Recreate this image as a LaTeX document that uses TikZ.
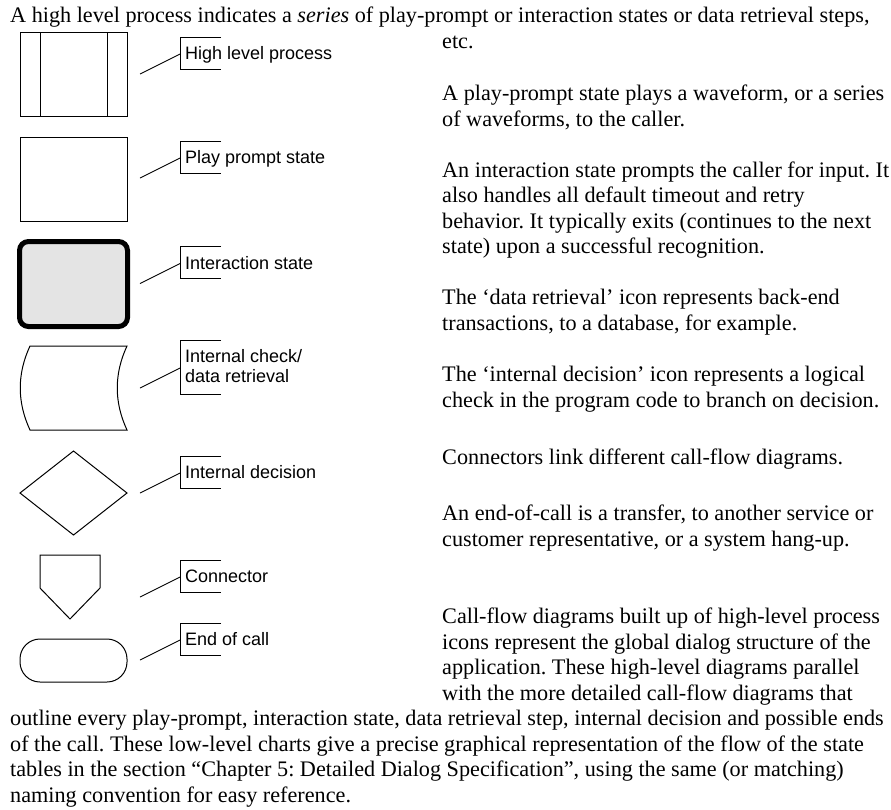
\documentclass[tikz,border=0pt]{standalone}
\usepackage{fontspec}
\setmainfont{Liberation Serif}
\newfontfamily\labelfont{Liberation Sans}
\frenchspacing
\begin{document}
\begin{tikzpicture}[x=1pt,y=-1pt,
  bodytext/.style={anchor=base west, inner sep=0pt, font=\fontsize{22.2}{25.5}\selectfont},
  lbl/.style={anchor=base west, inner sep=0pt, font=\labelfont\fontsize{18}{20}\selectfont},
  shapeline/.style={draw=black, line width=1pt, line join=miter},
  leader/.style={draw=black, line width=0.9pt},
]
\useasboundingbox[fill=white] (0,0) rectangle (891,809);

% ---------- shapes ----------
% high level process
\draw[shapeline] (20,32) rectangle (127,116);
\coordinate (hlpA) at (40,32); \coordinate (hlpB) at (40,116);
\coordinate (hlpC) at (107,32); \coordinate (hlpD) at (107,116);
\draw[shapeline] (hlpA) -- (hlpB);
\draw[shapeline] (hlpC) -- (hlpD);
% play prompt
\draw[shapeline] (20,137) rectangle (127,221);
% interaction state
\draw[line width=5pt, fill={rgb,255:red,228;green,228;blue,228}, rounded corners=9pt] (19.5,241.5) rectangle (127.5,326.5);
% internal check / data retrieval
\draw[shapeline] (30,346) -- (127,346) .. controls (114,374) and (114,402) .. (127,430)
   -- (30,430) .. controls (17,402) and (17,374) .. (30,346) -- cycle;
% decision
\draw[shapeline] (20,493) -- (73.5,451) -- (127,493) -- (73.5,535) -- cycle;
% connector
\draw[shapeline] (40,555) -- (100,555) -- (100,588) -- (70,619) -- (40,588) -- cycle;
% end of call
\draw[shapeline, rounded corners=20pt] (20,639) rectangle (127,682);

% ---------- legend labels ----------
\newcommand\legendentry[3]{%
  \coordinate (#1-a) at (140,#2);
  \coordinate (#1-b) at (180,#2-20);
  \coordinate (#1-c) at (221,#2-37);
  \coordinate (#1-d) at (180,#2-37);
  \coordinate (#1-e) at (180,#2-5);
  \coordinate (#1-f) at (221,#2-5);
  \draw[leader] (#1-a) -- (#1-b);
  \draw[leader] (#1-c) -- (#1-d) -- (#1-e) -- (#1-f);
  \node[lbl] (#1-t) at (185,#2-14.5) {#3};
}
\legendentry{hlp}{74}{High level process}
\legendentry{ppr}{178}{Play prompt state}
\legendentry{int}{283.5}{Interaction state}
\legendentry{dec}{493}{Internal decision}
\legendentry{con}{597}{Connector}
\legendentry{eoc}{660}{End of call}
% two-line label
\coordinate (chk-a) at (140,388);
\coordinate (chk-b) at (180,368);
\coordinate (chk-c) at (221,340);
\coordinate (chk-d) at (180,340);
\coordinate (chk-e) at (180,394);
\coordinate (chk-f) at (221,394);
\draw[leader] (chk-a) -- (chk-b);
\draw[leader] (chk-c) -- (chk-d) -- (chk-e) -- (chk-f);
\node[lbl] (chk-t1) at (185,362.7) {Internal check/};
\node[lbl] (chk-t2) at (185,382.7) {data retrieval};

% ---------- body text ----------
\newcommand\bline[4]{\node[bodytext] (#1) at (#2,#3) {#4};}
\bline{l01}{10}{22.5}{A high level process indicates a \textit{series} of play-prompt or interaction states or data retrieval steps,}
\bline{l02}{442}{48}{etc.}
\bline{l03}{442}{100}{A play-prompt state plays a waveform, or a series}
\bline{l04}{442}{126}{of waveforms, to the caller.}
\bline{l05}{442}{177}{An interaction state prompts the caller for input. It}
\bline{l06}{442}{202.5}{also handles all default timeout and retry}
\bline{l07}{442}{228}{behavior. It typically exits (continues to the next}
\bline{l08}{442}{253.5}{state) upon a successful recognition.}
\bline{l09}{442}{304.5}{The ‘data retrieval’ icon represents back-end}
\bline{l10}{442}{330.5}{transactions, to a database, for example.}
\bline{l11}{442}{381.5}{The ‘internal decision’ icon represents a logical}
\bline{l12}{442}{407}{check in the program code to branch on decision.}
\bline{l13}{442}{464}{Connectors link different call-flow diagrams.}
\bline{l14}{442}{520.5}{An end-of-call is a transfer, to another service or}
\bline{l15}{442}{546.5}{customer representative, or a system hang-up.}
\bline{l16}{442}{623.5}{Call-flow diagrams built up of high-level process}
\bline{l17}{442}{649}{icons represent the global dialog structure of the}
\bline{l18}{442}{674.5}{application. These high-level diagrams parallel}
\bline{l19}{442}{700}{with the more detailed call-flow diagrams that}
\bline{l20}{10}{725.5}{outline every play-prompt, interaction state, data retrieval step, internal decision and possible ends}
\bline{l21}{10}{751}{of the call. These low-level charts give a precise graphical representation of the flow of the state}
\bline{l22}{10}{776.5}{tables in the section “Chapter 5: Detailed Dialog Specification”, using the same (or matching)}
\bline{l23}{10}{802}{naming convention for easy reference.}
\end{tikzpicture}
\end{document}
